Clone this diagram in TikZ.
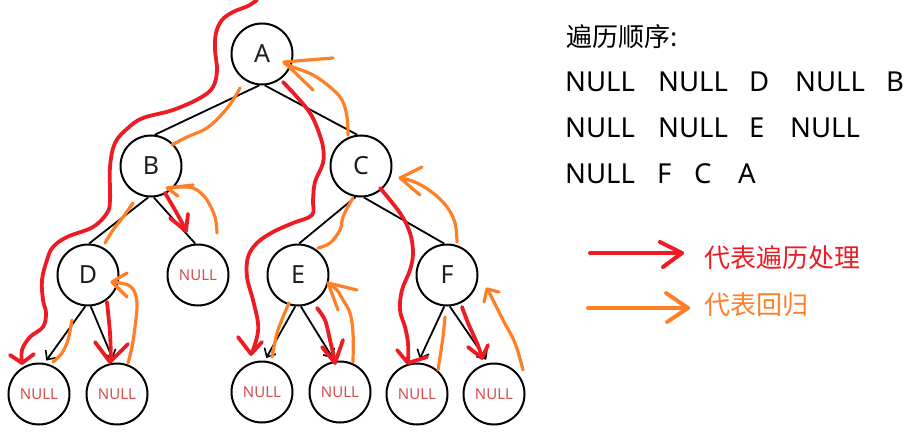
\documentclass[tikz,border=0pt]{standalone}
\usepackage{fontspec}
\setmainfont{Noto Sans}
\newfontfamily\cjk{Noto Sans CJK SC}
\usetikzlibrary{arrows.meta}
\definecolor{pred}{RGB}{237,28,36}
\definecolor{porange}{RGB}{255,127,39}
\definecolor{nullc}{RGB}{212,78,78}
\definecolor{txt}{RGB}{30,30,30}
\tikzset{
  tn/.style={circle,draw,line width=2pt,minimum size=61pt,inner sep=0pt,text=txt,font=\fontsize{25}{25}\selectfont},
  nn/.style={circle,draw,line width=2pt,minimum size=61pt,inner sep=0pt,text=nullc,font=\fontsize{15}{15}\selectfont},
  edge/.style={line width=1.8pt,black},
  aedge/.style={edge,-{Straight Barb[length=7pt,width=13pt,line width=1.6pt]}},
  rp/.style={pred,line width=3.8pt,line cap=round,line join=round},
  op/.style={porange,line width=3.2pt,line cap=round,line join=round},
  wt/.style={anchor=base west,inner sep=0pt,text=black,font=\fontsize{27.5}{27.5}\selectfont},
  ct/.style={anchor=base west,inner sep=0pt,font=\cjk\fontsize{26}{26}\selectfont},
}
\begin{document}
\begin{tikzpicture}[x=1pt,y=-1pt]
\useasboundingbox (0,0) rectangle (917,433);
% tree nodes
\node[tn] (A) at (262,54) {A};
\node[tn] (B) at (151,166) {B};
\node[tn] (C) at (361,166) {C};
\node[tn] (D) at (88,275) {D};
\node[nn] (N1) at (198,275) {NULL};
\node[tn] (E) at (298,275) {E};
\node[tn] (F) at (447,275) {F};
\node[nn] (N2) at (39,394) {NULL};
\node[nn] (N3) at (117,394) {NULL};
\node[nn] (N4) at (262,392) {NULL};
\node[nn] (N5) at (340,392) {NULL};
\node[nn] (N6) at (417,394) {NULL};
\node[nn] (N7) at (494,394) {NULL};
% tree edges
\draw[edge] (A.-95) -- (B.83);
\draw[edge] (A.-85) -- (C.97);
\draw[edge] (B.-95) -- (D.88);
\draw[edge] (B.-85) -- (N1.95);
\draw[edge] (C.-100) -- (E.88);
\draw[edge] (C.-85) -- (F.95);
\draw[aedge,shorten >=3pt] (D.-95) -- (N2.80);
\draw[aedge,shorten >=4pt] (D.-85) -- (N3.95);
\draw[aedge,shorten >=3pt] (E.-95) -- (N4.85);
\draw[aedge,shorten >=3pt] (E.-85) -- (N5.100);
\draw[aedge,shorten >=4pt] (F.-95) -- (N6.88);
\draw[aedge,shorten >=4pt] (F.-85) -- (N7.100);
% red traversal strokes
\draw[rp] plot[smooth,tension=0.6] coordinates {(257,0) (248,6) (233,12) (222,20) (216,33) (215,50) (217,70) (213,87) (200,98) (173,110) (143,118) (128,128) (115,143) (110,167) (110,200) (107,213) (93,227) (67,237) (53,247) (47,260) (42,280) (43,300) (46,313) (43,327) (30,337) (22,350) (22,363)};
\draw[rp] (10,355) -- (22,363) -- (34,354);
\draw[rp] plot[smooth] coordinates {(165,193) (175,210) (186,230)};
\draw[rp] (170,218) -- (186,231) -- (188,214);
\draw[rp] plot[smooth] coordinates {(107,302) (110,333) (111,360)};
\draw[rp] (95,342) -- (110,362) -- (128,344);
\draw[rp] plot[smooth,tension=0.6] coordinates {(283,82) (297,97) (310,113) (318,130) (323,147) (323,163) (315,182) (313,200) (312,215) (293,223) (273,232) (257,243) (248,257) (247,277) (253,300) (258,323) (257,337) (252,353)};
\draw[rp] (238,337) -- (251,354) -- (262,342);
\draw[rp] plot[smooth] coordinates {(317,308) (325,320) (330,340) (335,362)};
\draw[rp] (322,347) -- (335,363) -- (343,340);
\draw[rp] plot[smooth,tension=0.6] coordinates {(380,188) (400,213) (410,233) (413,253) (410,270) (402,290) (400,310) (405,327) (408,343) (408,362)};
\draw[rp] (397,350) -- (408,363) -- (427,357);
\draw[rp] plot[smooth] coordinates {(462,307) (468,323) (477,343) (482,357)};
\draw[rp] (468,347) -- (482,358) -- (488,345);
% orange return strokes
\draw[op] plot[smooth,tension=0.6] coordinates {(348,135) (347,117) (342,100) (330,87) (313,75) (293,67) (284,63)};
\draw[op] (333,58) -- (284,62) -- (313,90);
\draw[op] plot[smooth,tension=0.6] coordinates {(172,145) (187,137) (207,128) (223,113) (233,100) (240,88)};
\draw[op] plot[smooth,tension=0.6] coordinates {(217,233) (215,217) (207,200) (197,190) (187,187) (168,188)};
\draw[op] (193,185) -- (167,188) -- (178,196);
\draw[op] plot[smooth] coordinates {(105,243) (113,230) (123,217) (133,203)};
\draw[op] plot[smooth] coordinates {(53,362) (62,353) (68,340) (72,320)};
\draw[op] plot[smooth,tension=0.6] coordinates {(128,363) (132,347) (135,327) (137,307) (135,293) (128,285) (113,282)};
\draw[op] (127,273) -- (112,282) -- (127,297);
\draw[op] plot[smooth,tension=0.6] coordinates {(318,248) (330,243) (340,230) (343,217) (350,203) (353,198)};
\draw[op] plot[smooth] coordinates {(272,357) (277,333) (283,317) (289,303)};
\draw[op] plot[smooth,tension=0.6] coordinates {(353,362) (353,333) (350,313) (343,300) (337,290) (330,285)};
\draw[op] (357,290) -- (328,283) -- (338,310);
\draw[op] plot[smooth,tension=0.6] coordinates {(457,242) (455,223) (447,207) (433,193) (417,183) (402,178)};
\draw[op] (422,167) -- (400,178) -- (420,195);
\draw[op] plot[smooth] coordinates {(438,370) (440,357) (443,337) (445,317)};
\draw[op] plot[smooth,tension=0.6] coordinates {(523,370) (515,343) (503,320) (493,300) (488,290)};
\draw[op] (499,292) -- (487,289) -- (484,302);
% traversal order text
\node[ct] (title) at (566,47) {遍历顺序:};
\node[wt] (s1) at (565,92) {NULL};
\node[wt] (s2) at (658,92) {NULL};
\node[wt] (s3) at (749,92) {D};
\node[wt] (s4) at (795,92) {NULL};
\node[wt] (s5) at (886,92) {B};
\node[wt] (s6) at (565,137) {NULL};
\node[wt] (s7) at (658,137) {NULL};
\node[wt] (s8) at (749,137) {E};
\node[wt] (s9) at (790,137) {NULL};
\node[wt] (s10) at (565,183) {NULL};
\node[wt] (s11) at (657,183) {F};
\node[wt] (s12) at (694,183) {C};
\node[wt] (s13) at (738,183) {A};
% legend
\coordinate (lr1) at (590,253);
\coordinate (lr2) at (682,253);
\draw[rp,line width=4pt] (lr1) -- (lr2);
\draw[rp,line width=4pt] (660,242) -- (lr2) -- (663,267);
\node[ct,text=pred] (lt1) at (704,267) {代表遍历处理};
\coordinate (lo1) at (588,308);
\coordinate (lo2) at (688,308);
\draw[op,line width=4pt] (lo1) -- (lo2);
\draw[op,line width=4pt] (666,293) -- (lo2) -- (667,322);
\node[ct,text=porange] (lt2) at (704,314) {代表回归};
\end{tikzpicture}
\end{document}
